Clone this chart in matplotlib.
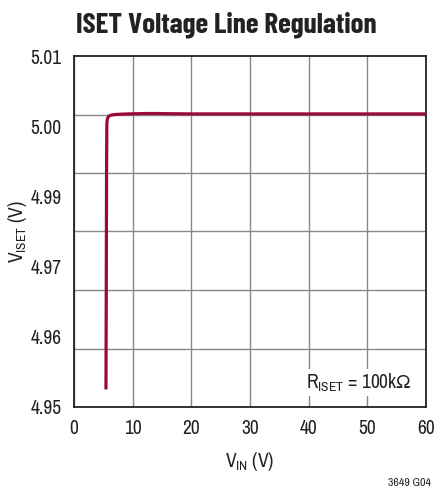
#script to redraw the ISET voltage line regulation curve

import numpy as np
import matplotlib
matplotlib.use('Agg')
import matplotlib.pyplot as plt

plt.rcParams['font.family'] = ['Archivo Narrow', 'DejaVu Sans']
plt.rcParams['mathtext.fontset'] = 'custom'
plt.rcParams['mathtext.rm'] = 'Archivo Narrow'
plt.rcParams['mathtext.fallback'] = 'stixsans'

#curve (VIN in volts, VISET in volts)
vin = [5.45, 5.50, 5.55, 5.60, 5.70, 5.90, 6.3, 7.0, 8.5, 10.0, 12.0, 14.0, 16.0, 20.0, 30.0, 40.0, 50.0, 60.0]
viset = [4.9530, 4.9700, 4.9900, 4.9985, 4.9993, 4.9997, 4.99990, 5.0000, 5.00008, 5.00012, 5.00017, 5.00017, 5.00014, 5.0001, 5.0001, 5.0001, 5.0001, 5.0001]

#gridlines every 0.01 V, the printed labels sit on their own even spacing
grid_y = [4.95, 4.96, 4.97, 4.98, 4.99, 5.00, 5.01]
label_text_y = ['4.95', '4.96', '4.97', '4.99', '5.00', '5.01']
x_ticks = [0, 10, 20, 30, 40, 50, 60]

fig = plt.figure(figsize=(4.35, 4.92), dpi=100)
ax = fig.add_axes([74/435, 1-407/492, 352/435, 351/492])

ax.plot(vin, viset, color='#9b0a35', lw=2.3, solid_capstyle='butt', zorder=3)

ax.set_xlim(0, 60)
ax.set_ylim(4.95, 5.01)
ax.set_xticks(x_ticks)
ax.set_xticklabels([str(t) for t in x_ticks])
#labels on the major ticks, grid on the minor ones
ax.set_yticks(np.linspace(4.95, 5.01, len(label_text_y)))
ax.set_yticklabels(label_text_y)
ax.set_yticks(grid_y, minor=True)
ax.tick_params(axis='both', which='both', length=0, labelsize=14, colors='#222222')
ax.tick_params(axis='x', pad=9)
ax.tick_params(axis='y', pad=9)
ax.grid(False, axis='y', which='major')
ax.grid(True, axis='y', which='minor', color='#888888', lw=1.0)
ax.grid(True, axis='x', which='major', color='#888888', lw=1.0)

for s in ax.spines.values():
    s.set_linewidth(1.3)
    s.set_color('#222222')

ax.set_xlabel(r'$\mathregular{V_{IN}}$ (V)', fontsize=14, labelpad=8, color='#222222')
ax.set_ylabel(r'$\mathregular{V_{ISET}}$ (V)', fontsize=14, labelpad=1, color='#222222')

ax.text(0.96, 0.07, r'$\mathregular{R_{ISET}}$ = 100k$\mathregular{\Omega}$', transform=ax.transAxes,
        ha='right', va='center', fontsize=14, color='#222222',
        bbox=dict(facecolor='white', edgecolor='none', pad=2), zorder=4)

fig.text(0.52, 0.949, 'ISET Voltage Line Regulation', ha='center', va='center',
         fontsize=21, fontweight='bold', family=['Barlow Condensed', 'Archivo Narrow'],
         color='#222222')
fig.text(0.99, 0.018, '3649 G04', ha='right', va='center', fontsize=8.5, color='#222222')

fig.savefig('out.png', dpi=100)
